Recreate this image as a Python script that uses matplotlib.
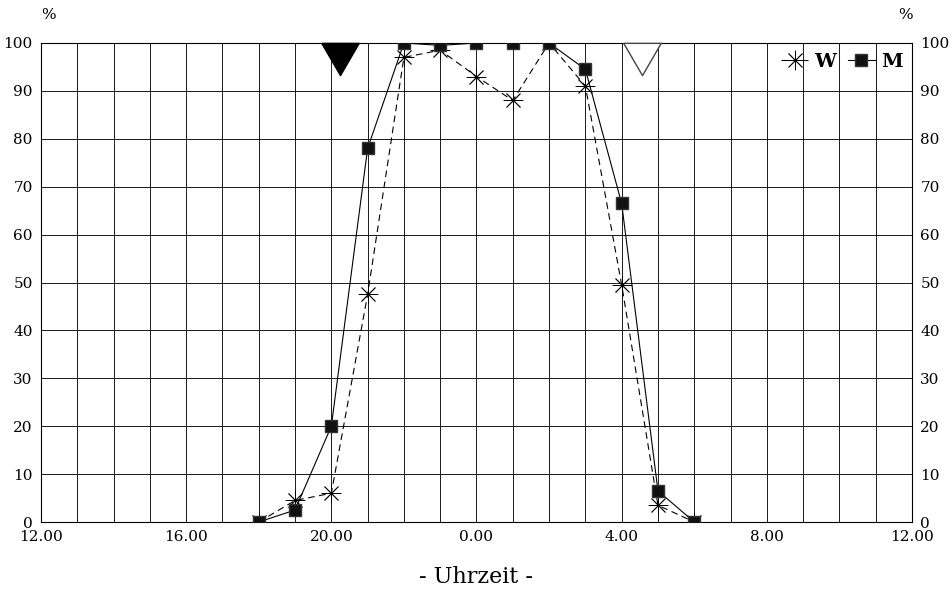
import numpy as np
import matplotlib
matplotlib.use("Agg")
import matplotlib.pyplot as plt

# hours of the day at which counts were taken (clock hours)
hours = [18, 19, 20, 21, 22, 23, 0, 1, 2, 3, 4, 5, 6]
w_pct = [0, 4.5, 6, 47.5, 97, 98.5, 93, 88, 100, 91, 49.5, 3.5, 0]
m_pct = [0, 2.5, 20, 78, 100, 99.5, 100, 100, 100, 94.5, 66.5, 6.5, 0]

# sunset / sunrise (clock time in hours)
sunset = 20.25
sunrise = 4.55

tick_hours = [12, 16, 20, 0, 4, 8, 12]
tick_labels = ["12.00", "16.00", "20.00", "0.00", "4.00", "8.00", "12.00"]


def to_axis(h):
    """Map clock hour onto a 12:00 -> 12:00 axis (hours since noon)."""
    h = np.asarray(h, dtype=float)
    return (h - 12) % 24


plt.rcParams["font.family"] = "DejaVu Serif"

fig = plt.figure(figsize=(9.52, 5.91), dpi=100)
ax = fig.add_axes([41 / 952, 69 / 591, 871 / 952, 479 / 591])

x = to_axis(hours)
ax.plot(x, w_pct, color="black", lw=0.8, ls=(0, (6, 4)),
        marker=(8, 2, 0), ms=14, mew=0.6, label="W", zorder=3)
ax.plot(x, m_pct, color="black", lw=0.8, ls="-",
        marker="s", ms=8, mfc="#111111", mec="#333333", label="M", zorder=4)

# sun symbols hanging from the top edge: a slightly flat downward triangle
tri = [(-1, 0.86), (1, 0.86), (0, -0.86), (-1, 0.86)]
ax.plot(to_axis(sunset), 96.6, marker=tri, ms=27, color="black",
        mec="black", clip_on=False, zorder=5)
ax.plot(to_axis(sunrise), 96.6, marker=tri, ms=27, mfc="white",
        mec="#444444", mew=1.0, clip_on=False, zorder=5)

ax.set_xlim(0, 24)
ax.set_ylim(0, 100)
ax.set_xticks(np.arange(25), minor=True)
ax.set_xticks(to_axis(tick_hours[:-1]).tolist() + [24])
ax.set_xticklabels(tick_labels)
ax.set_yticks(np.arange(0, 101, 10))
ax.grid(True, which="both", color="#1a1a1a", lw=0.7)
ax.tick_params(which="both", length=0, labelsize=11, pad=6)
ax.tick_params(axis="y", labelright=True, right=False)
for s in ax.spines.values():
    s.set_linewidth(0.8)

fig.text(48 / 952, 1 - 15 / 591, "%", ha="center", va="center", fontsize=11)
fig.text(905 / 952, 1 - 15 / 591, "%", ha="center", va="center", fontsize=11)
fig.text(476 / 952, 1 - 577 / 591, "- Uhrzeit -", ha="center", va="center",
         fontsize=16)

ax.legend(loc="upper right", ncol=2, frameon=False,
          handlelength=1.4, handletextpad=0.3, columnspacing=0.6,
          borderaxespad=0.1, prop={"weight": "bold", "size": 14})

fig.savefig("out.png", dpi=100)
